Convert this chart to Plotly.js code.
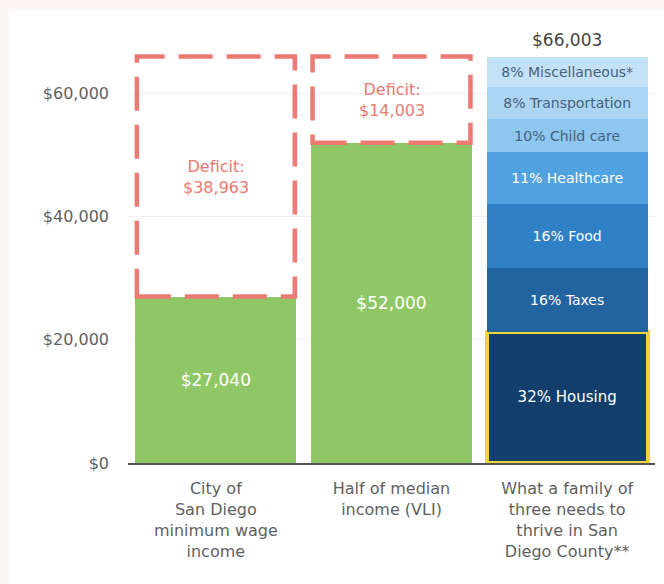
<!DOCTYPE html>
<html>
<head>
<meta charset="utf-8">
<script src="https://cdn.plot.ly/plotly-3.0.1.min.js"></script>
<style>
  html, body { margin: 0; padding: 0; background: #fdf8f6; width: 664px; height: 584px; overflow: hidden; }
  #chart { position: absolute; left: 9px; top: 10px; width: 655px; height: 574px; background: #ffffff; }
</style>
</head>
<body>
<div id="chart"></div>
<script>
// ---- data ----
const categories = [
  "City of<br>San Diego<br>minimum wage<br>income",
  "Half of median<br>income (VLI)",
  "What a family of<br>three needs to<br>thrive in San<br>Diego County**"
];
const incomeValues = [27040, 52000];
const deficitValues = [38963, 14003];
const thriveTotal = 66003;
const budgetLabels = ["32% Housing", "16% Taxes", "16% Food", "11% Healthcare", "10% Child care", "8% Transportation", "8% Miscellaneous*"];
const budgetValues = [21300, 10450, 10300, 8400, 5450, 5220, 4883];
const yTickValues = [0, 20000, 40000, 60000];

// ---- styles ----
const FONT = "DejaVu Sans";
const budgetColors = ["#123f6b", "#22649f", "#2f80c4", "#50a2e0", "#8dc6ef", "#aad5f3", "#c4e2f7"];
const budgetTextColors = ["#ffffff", "#ffffff", "#ffffff", "#ffffff", "#45617e", "#45617e", "#45617e"];
const budgetTextSizes = [15, 14, 14, 14, 14, 14, 14];
const green = "#8fc766";
const deficitColor = "#ec7a72";
const BARGAP = 0.085;
const halfW = (1 - BARGAP) / 2;

const fmt = v => "$" + v.toLocaleString("en-US");

const traces = [];
traces.push({
  type: "bar",
  x: categories.slice(0, incomeValues.length),
  y: incomeValues,
  marker: { color: green, line: { width: 0 } },
  text: incomeValues.map(fmt),
  textposition: "inside",
  insidetextanchor: "middle",
  textangle: 0,
  textfont: { family: FONT, size: 17, color: "#ffffff" },
  hoverinfo: "skip",
  showlegend: false
});
budgetLabels.forEach((lab, k) => {
  traces.push({
    type: "bar",
    x: [categories[2]],
    y: [budgetValues[k]],
    marker: {
      color: budgetColors[k],
      line: k === 0 ? { color: "#f2d43a", width: 4 } : { width: 0 }
    },
    text: [lab],
    textposition: "inside",
    insidetextanchor: "middle",
    textangle: 0,
    textfont: { family: FONT, size: budgetTextSizes[k], color: budgetTextColors[k] },
    constraintext: "none",
    hoverinfo: "skip",
    showlegend: false
  });
});

const shapes = [];
const annotations = [];
deficitValues.forEach((d, i) => {
  shapes.push({
    type: "rect", xref: "x", yref: "y",
    x0: i - halfW + 0.008, x1: i + halfW - 0.008,
    y0: incomeValues[i], y1: incomeValues[i] + d,
    line: { color: deficitColor, width: 4.5, dash: "34px,14px" },
    fillcolor: "rgba(0,0,0,0)",
    layer: "above"
  });
  annotations.push({
    x: i, y: incomeValues[i] + d / 2, xref: "x", yref: "y",
    text: "Deficit:<br>" + fmt(d),
    showarrow: false,
    font: { family: FONT, size: 16, color: deficitColor }
  });
});
annotations.push({
  x: 2, y: thriveTotal, xref: "x", yref: "y",
  text: fmt(thriveTotal), showarrow: false,
  yanchor: "bottom", yshift: 5,
  font: { family: FONT, size: 17, color: "#444444" }
});

const layout = {
  width: 655, height: 574,
  margin: { l: 119, r: 9, t: 22, b: 121 },
  paper_bgcolor: "#ffffff",
  plot_bgcolor: "#ffffff",
  barmode: "stack",
  bargap: BARGAP,
  font: { family: FONT, color: "#5f5f5f" },
  xaxis: {
    type: "category",
    showgrid: false,
    showline: true, linecolor: "#555555", linewidth: 2,
    ticks: "",
    ticklabelstandoff: 10,
    tickfont: { family: FONT, size: 16, color: "#5f5f5f" },
    fixedrange: true
  },
  yaxis: {
    range: [0, 70000],
    tickvals: yTickValues,
    ticktext: yTickValues.map(fmt),
    showgrid: true, gridcolor: "#f1f1f1", gridwidth: 1,
    zeroline: false,
    showline: false,
    ticks: "",
    ticklabelstandoff: 18,
    tickfont: { family: FONT, size: 16, color: "#5f5f5f" },
    fixedrange: true
  },
  shapes: shapes,
  annotations: annotations,
  showlegend: false
};

Plotly.newPlot("chart", traces, layout, { displayModeBar: false, staticPlot: true });
</script>
</body>
</html>
